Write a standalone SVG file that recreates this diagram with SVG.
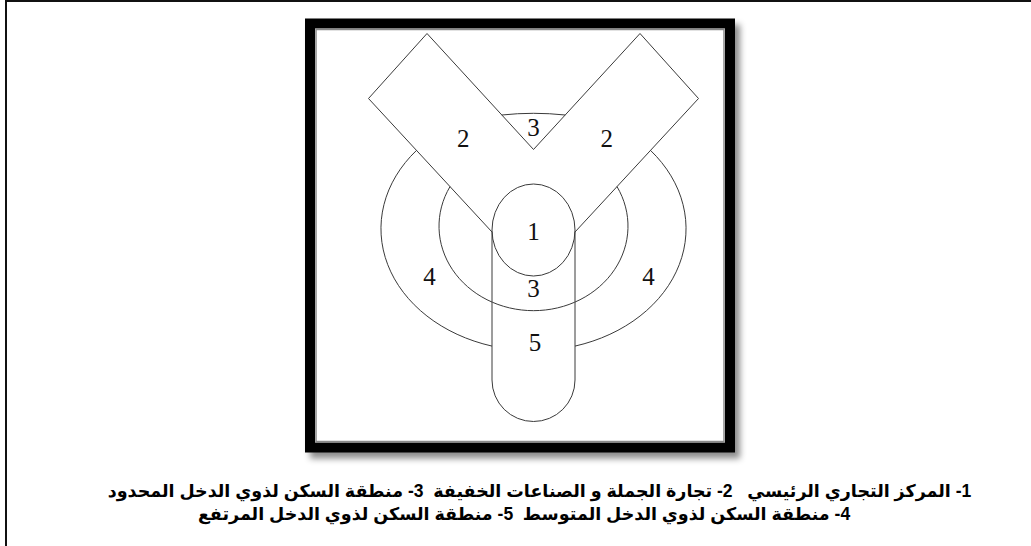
<svg xmlns="http://www.w3.org/2000/svg" width="1031" height="546" viewBox="0 0 1031 546">
<style>
.ln{fill:none;stroke:#3a3a3a;stroke-width:1}
.num{font-family:"Liberation Serif","DejaVu Serif",serif;font-size:25px;fill:#111;text-anchor:middle}
.cap{font-family:"Liberation Sans","DejaVu Sans","Noto Sans",sans-serif;font-weight:bold;font-size:17.5px;fill:#000;text-anchor:middle}
</style>
<defs>
<filter id="sh" x="-10%" y="-10%" width="125%" height="125%">
<feDropShadow dx="5" dy="6" stdDeviation="3" flood-color="#000" flood-opacity="0.45"/>
</filter>
</defs>
<rect width="1031" height="546" fill="#fff"/>
<g id="page-frame">
<line x1="6" y1="0" x2="6" y2="546" stroke="#111" stroke-width="2"/>
<line x1="5" y1="1" x2="1031" y2="1" stroke="#111" stroke-width="2"/>
</g>
<g id="map-frame">
<rect x="310" y="23.5" width="420" height="424" fill="#fff" stroke="#000" stroke-width="10" filter="url(#sh)"/>
<rect x="316" y="29.5" width="408" height="412" fill="#fff" stroke="#8a8a8a" stroke-width="1.5"/>
</g>
<g id="zone4">
<path class="ln" d="M416.5,150.4 A152.5,122 0 0 0 492,346.1"/>
<path class="ln" d="M650.5,150.4 A152.5,122 0 0 1 575,346.1"/>
</g>
<g id="zone3">
<path class="ln" d="M450,186.6 A94.5,84.5 0 1 0 617,186.6"/>
<path class="ln" d="M501.8,115 Q533.5,111.6 565.2,115"/>
</g>
<g id="zone2">
<path class="ln" d="M492,232 L368.5,98.5 L427,33.5 L533.5,149.5 L640,33.5 L698.5,98.5 L575,232"/>
</g>
<g id="zone5">
<path class="ln" d="M492,232 V380 A41.5,41.5 0 0 0 575,380 V232"/>
</g>
<g id="zone1">
<ellipse class="ln" cx="533.5" cy="230" rx="41.5" ry="46"/>
</g>
<g id="labels">
<text class="num" x="533.5" y="136">3</text>
<text class="num" x="463.3" y="147">2</text>
<text class="num" x="606.7" y="147">2</text>
<text class="num" x="533.5" y="239.5">1</text>
<text class="num" x="429.5" y="285">4</text>
<text class="num" x="648.5" y="285">4</text>
<text class="num" x="533.5" y="297">3</text>
<text class="num" x="535" y="350.5">5</text>
</g>
<g id="caption">
<text class="cap" x="539.5" y="497" direction="rtl" xml:space="preserve">1- المركز التجاري الرئيسي   2- تجارة الجملة و الصناعات الخفيفة  3- منطقة السكن لذوي الدخل المحدود</text>
<text class="cap" x="524" y="520" direction="rtl" xml:space="preserve">4- منطقة السكن لذوي الدخل المتوسط  5- منطقة السكن لذوي الدخل المرتفع</text>
</g>
</svg>
